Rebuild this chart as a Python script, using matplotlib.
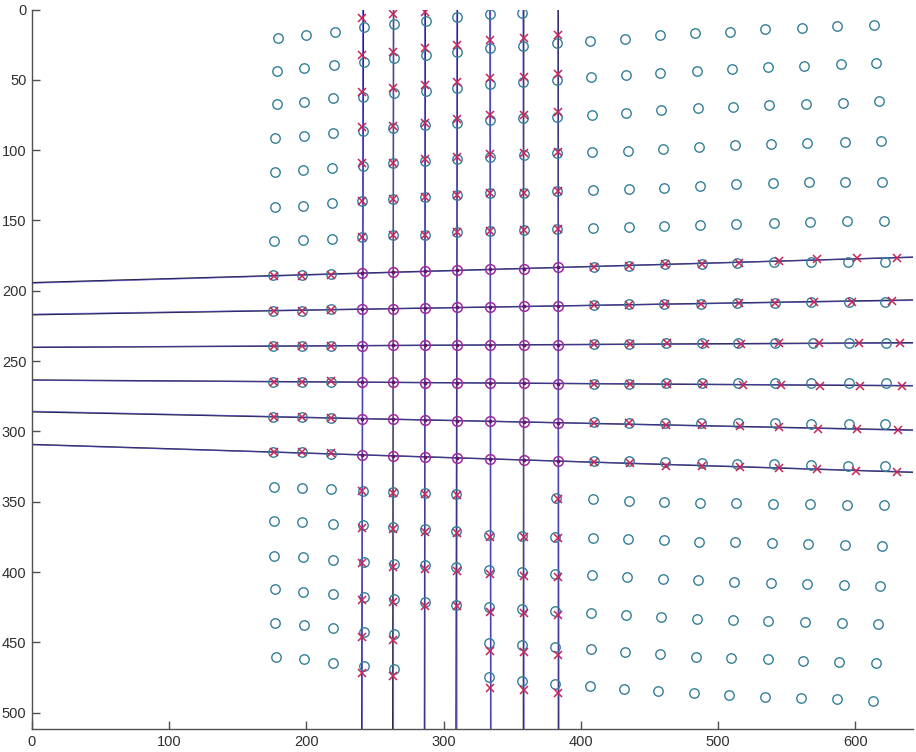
import matplotlib
matplotlib.use('Agg')
import matplotlib.pyplot as plt

# ---- detected corners (circles) ----
# left block: 3 columns, 19 rows each
left_cx = [[179.5, 178.8, 178.4, 177.3, 177.3, 177.3, 176.4, 175.9, 175.9, 175.9, 175.9, 175.9, 175.9,
            176.4, 176.4, 176.4, 177.1, 177.1, 177.9],
           [199.7, 198.3, 198.3, 198.3, 197.8, 197.3, 197.3, 196.6, 196.6, 196.6, 196.6, 196.6, 196.6,
            196.8, 196.8, 197.5, 197.5, 198.3, 198.3],
           [221.1, 220.3, 219.6, 219.6, 218.9, 218.9, 218.9, 217.9, 217.9, 217.9, 217.9, 217.9, 217.9,
            218.0, 219.0, 219.0, 219.0, 219.4, 219.4]]
left_cy = [[20.0, 43.7, 67.4, 91.1, 115.8, 140.2, 164.4, 189.0, 214.4, 239.2, 264.8, 289.7, 314.8,
            339.3, 363.7, 388.3, 412.0, 436.4, 460.1],
           [17.9, 41.8, 65.6, 89.7, 114.1, 139.5, 163.9, 189.0, 214.4, 239.2, 264.8, 289.7, 314.8,
            340.0, 364.6, 389.5, 414.4, 437.8, 462.0],
           [15.8, 39.5, 63.2, 87.6, 112.7, 137.8, 163.0, 188.1, 213.2, 239.2, 264.8, 290.7, 316.0,
            340.7, 365.8, 391.2, 415.6, 440.0, 464.4]]

# vertical band: 7 columns, circles off the line rows
band_cx = [[242.0, 242.0, 241.5, 241.5, 241.5, 240.5, 240.5, 241.3, 241.3, 241.8, 241.8, 241.8, 242.2],
           [264.0, 264.0, 264.0, 263.3, 263.3, 263.3, 263.3, 263.4, 263.4, 264.1, 264.1, 264.1, 264.1],
           [287.2, 287.2, 287.2, 286.4, 286.4, 286.4, 286.4, 286.4, 286.4, 286.4, 286.4],
           [310.0, 309.5, 309.5, 309.5, 309.5, 309.5, 309.5, 309.0, 309.0, 309.0, 309.0],
           [333.8, 333.8, 333.8, 333.8, 333.8, 333.8, 333.8, 333.1, 333.1, 333.1, 333.1, 333.1],
           [356.9, 357.6, 357.6, 357.6, 358.6, 358.6, 358.6, 357.0, 357.0, 357.0, 357.0, 357.0],
           [382.4, 382.4, 382.4, 382.4, 382.4, 382.4, 381.9, 381.2, 381.2, 381.2, 381.2, 381.2]]
band_cy = [[12.4, 37.1, 62.0, 86.4, 111.3, 136.2, 161.5, 342.1, 366.5, 393.0, 417.5, 442.4, 466.8],
           [10.3, 34.7, 59.6, 84.5, 109.4, 134.7, 160.6, 342.8, 367.7, 394.2, 419.3, 444.0, 469.1],
           [8.0, 32.4, 57.7, 82.1, 107.7, 133.1, 160.3, 344.0, 369.6, 395.0, 421.5],
           [5.6, 30.0, 56.0, 80.5, 106.5, 131.9, 158.4, 344.5, 370.6, 396.2, 423.4],
           [3.2, 27.6, 53.0, 78.6, 104.7, 130.2, 157.3, 373.7, 398.5, 424.6, 450.2, 474.8],
           [2.3, 26.0, 51.3, 77.4, 103.4, 130.2, 156.8, 374.1, 400.2, 426.3, 451.9, 477.2],
           [24.0, 50.1, 76.2, 101.8, 128.8, 156.0, 347.5, 374.8, 401.3, 427.4, 453.5, 479.6]]

# right block: 18 rows of 9 circles
right_cx = [[406.7, 432.3, 457.3, 483.0, 508.8, 534.5, 561.0, 586.8, 613.3],
            [407.2, 432.7, 457.8, 484.5, 510.2, 536.0, 562.7, 589.2, 614.9],
            [408.0, 433.0, 458.7, 485.2, 511.0, 537.4, 564.2, 590.7, 617.4],
            [408.0, 434.0, 459.5, 485.9, 512.4, 538.4, 564.9, 592.1, 618.8],
            [408.7, 434.7, 460.2, 486.7, 513.2, 539.9, 566.4, 592.8, 619.6],
            [408.7, 434.7, 460.9, 486.7, 513.2, 540.6, 567.1, 593.6, 621.0],
            [409.2, 435.4, 461.4, 488.1, 514.1, 540.4, 567.8, 594.5, 621.8],
            [409.2, 435.4, 460.9, 487.4, 514.1, 541.1, 567.8, 595.0, 621.8],
            [409.2, 435.4, 462.1, 488.6, 514.6, 541.1, 568.8, 595.5, 622.5],
            [409.2, 435.4, 462.1, 488.6, 514.6, 541.1, 567.8, 595.5, 622.5],
            [409.2, 435.4, 461.4, 487.4, 514.6, 541.1, 567.8, 595.0, 621.8],
            [409.2, 435.4, 461.4, 487.9, 514.1, 540.4, 567.6, 594.5, 621.8],
            [408.7, 434.7, 460.2, 486.9, 513.2, 539.9, 567.1, 593.8, 621.0],
            [408.7, 434.0, 460.2, 485.9, 512.4, 539.2, 565.4, 592.8, 619.6],
            [408.0, 433.5, 459.5, 485.2, 511.7, 538.4, 564.7, 591.4, 618.1],
            [407.2, 433.0, 458.7, 484.5, 511.0, 536.7, 563.4, 589.9, 616.4],
            [407.2, 432.3, 457.8, 483.8, 509.5, 536.0, 561.7, 588.2, 614.9],
            [406.3, 431.5, 456.5, 482.3, 508.1, 534.5, 560.3, 586.8, 612.5]]
right_cy = [[22.2, 21.0, 18.4, 16.9, 15.8, 14.1, 13.4, 11.7, 11.3],
            [48.2, 46.8, 45.1, 43.7, 42.3, 40.9, 40.2, 38.5, 37.8],
            [75.0, 73.3, 71.7, 70.3, 69.6, 68.1, 67.4, 66.7, 65.1],
            [101.6, 100.4, 98.9, 98.0, 96.3, 95.6, 94.9, 94.2, 93.5],
            [128.3, 127.6, 126.7, 125.3, 124.3, 123.6, 122.9, 122.4, 122.4],
            [155.6, 154.9, 154.2, 153.5, 152.7, 152.0, 151.3, 150.4, 150.1],
            [182.8, 182.1, 181.2, 181.2, 180.5, 179.8, 179.3, 179.3, 179.3],
            [210.1, 209.6, 209.4, 209.4, 208.9, 208.4, 208.2, 208.0, 208.2],
            [238.1, 238.1, 237.4, 237.4, 237.4, 236.9, 237.4, 237.4, 237.4],
            [266.3, 266.3, 265.8, 265.8, 265.8, 265.8, 265.8, 265.8, 265.8],
            [293.0, 293.8, 294.2, 293.8, 294.2, 294.2, 294.7, 294.7, 294.7],
            [320.8, 320.8, 322.0, 322.7, 323.1, 323.4, 323.9, 324.6, 324.6],
            [348.3, 349.2, 349.9, 350.6, 351.1, 351.8, 351.8, 352.5, 352.5],
            [375.5, 376.2, 377.2, 378.6, 378.6, 379.5, 380.0, 380.7, 381.4],
            [402.3, 403.7, 404.7, 405.9, 406.8, 407.5, 408.2, 408.9, 409.6],
            [428.8, 430.5, 431.9, 433.3, 434.1, 434.8, 435.7, 436.4, 437.1],
            [454.7, 457.0, 458.5, 460.1, 460.8, 462.0, 463.0, 463.7, 464.4],
            [480.7, 483.1, 484.5, 486.0, 487.4, 488.6, 489.8, 490.5, 491.6]]

# ---- projected points (red x) ----
band_px = [240.3, 262.9, 286.4, 310.0, 334.0, 358.3, 383.6]
band_py = [[6.3, 32.4, 58.4, 83.3, 109.4, 136.0, 161.5, 342.1, 368.4, 393.8, 419.8, 445.9, 471.9],
           [3.2, 30.0, 56.0, 82.6, 108.9, 134.7, 160.6, 343.8, 369.6, 396.1, 421.5, 448.3, 473.9],
           [1.5, 27.6, 53.7, 80.5, 106.5, 133.1, 160.3, 344.5, 371.3, 397.8, 424.1],
           [25.2, 51.3, 78.1, 104.7, 131.9, 158.4, 345.2, 372.4, 399.0, 424.1],
           [21.7, 48.9, 75.0, 102.7, 130.2, 157.3, 374.8, 401.4, 428.6, 455.9, 482.6],
           [20.5, 48.2, 75.0, 102.2, 130.2, 156.8, 374.8, 402.8, 429.3, 456.6, 483.8],
           [18.1, 45.9, 72.7, 101.1, 128.8, 156.0, 348.3, 376.0, 403.3, 430.5, 458.9, 486.2]]

left_px = [176.2, 196.9, 218.2]
left_py = [[189.4, 214.6, 239.4, 264.6, 289.5, 314.6],
           [189.2, 214.4, 239.3, 264.6, 289.7, 314.8],
           [188.4, 213.6, 239.1, 264.4, 290.3, 315.6]]

right_px = [[409.2, 435.4, 461.4, 488.1, 515.3, 544.0, 571.9, 601.1, 630.3],
            [409.2, 434.7, 461.4, 487.4, 514.9, 541.6, 569.5, 597.5, 626.6],
            [409.2, 435.9, 462.6, 490.1, 516.8, 544.7, 573.2, 603.0, 632.7],
            [409.2, 435.9, 462.6, 489.3, 518.0, 546.0, 574.4, 603.5, 633.9],
            [409.7, 435.4, 461.9, 488.4, 516.1, 544.5, 572.7, 601.1, 631.0],
            [409.2, 435.9, 462.1, 488.1, 516.1, 544.0, 571.9, 600.6, 630.3]]
right_py = [[182.8, 182.1, 181.2, 181.2, 180.5, 178.6, 177.6, 176.9, 176.4],
            [210.1, 210.1, 209.6, 209.4, 208.9, 208.4, 208.0, 207.7, 207.0],
            [238.1, 238.1, 237.4, 237.8, 238.1, 237.4, 237.4, 237.4, 237.4],
            [266.3, 266.3, 266.3, 266.3, 267.0, 267.0, 267.7, 267.7, 267.7],
            [294.2, 294.2, 295.4, 295.4, 296.1, 297.1, 298.3, 298.5, 299.0],
            [321.5, 322.2, 324.3, 324.6, 325.5, 326.2, 326.9, 327.9, 328.6]]

# ---- line intersections (magenta circles) ----
inter_x = [240.8, 263.2, 286.3, 309.8, 334.0, 358.2, 383.6]
inter_y = [[187.1, 186.4, 185.9, 185.2, 184.5, 184.5, 183.3],
           [213.2, 213.2, 212.4, 211.7, 211.7, 210.8, 210.8],
           [239.0, 238.8, 238.7, 238.5, 238.5, 238.3, 238.2],
           [264.9, 265.1, 265.2, 265.4, 265.5, 265.7, 265.9],
           [290.9, 291.3, 291.8, 292.3, 292.8, 293.3, 293.8],
           [316.6, 317.3, 318.0, 318.8, 319.5, 320.3, 321.1]]

# ---- fitted lines: endpoints ----
vline_top = [241.5, 263.5, 286.6, 310.0, 333.8, 358.3, 383.5]      # x at y=0
vline_bot = [240.3, 262.9, 286.0, 309.0, 334.3, 358.1, 383.6]      # x at y=511.5
vline2_top = [241.0, 263.3, 286.2, 309.6, 334.0, 357.8, 383.2]
vline2_bot = [240.6, 263.4, 286.3, 309.7, 334.0, 358.6, 384.0]
hline_left = [194.2, 217.0, 240.2, 263.4, 286.0, 309.2]            # y at x=0
hline_right = [176.1, 206.5, 236.9, 267.5, 299.0, 329.0]           # y at x=642
hline2_left = [194.6, 216.6, 240.0, 263.6, 285.6, 309.4]
hline2_right = [176.0, 206.8, 237.2, 267.3, 299.3, 328.8]

XMAX, YMAX = 642, 511.5

plt.rcParams['font.family'] = ['Liberation Sans', 'DejaVu Sans']
fig = plt.figure(figsize=(9.16, 7.52), dpi=100)
ax = fig.add_axes([32 / 916, 23 / 752, 881 / 916, 719.5 / 752])

# lines
for t, b in zip(vline_top, vline_bot):
    ax.plot([t, b], [0, YMAX], color='#15151f', lw=1.0)
for l, r in zip(hline_left, hline_right):
    ax.plot([0, XMAX], [l, r], color='#15151f', lw=1.0)
for t, b in zip(vline2_top, vline2_bot):
    ax.plot([t, b], [0, YMAX], color='#5a50e0', lw=0.9, alpha=0.8)
for l, r in zip(hline2_left, hline2_right):
    ax.plot([0, XMAX], [l, r], color='#5a50e0', lw=0.9, alpha=0.6)

circ = dict(ls='none', marker='o', ms=6.8, mfc='none', mec='#347f98', mew=1.0)
cross = dict(ls='none', marker='x', ms=6.0, color='#c8245a', mew=1.1)

for xs, ys in zip(left_cx, left_cy):
    ax.plot(xs, ys, **circ)
for xs, ys in zip(band_cx, band_cy):
    ax.plot(xs, ys, **circ)
for xs, ys in zip(right_cx, right_cy):
    ax.plot(xs, ys, **circ)

for x, ys in zip(band_px, band_py):
    ax.plot([x] * len(ys), ys, **cross)
for x, ys in zip(left_px, left_py):
    ax.plot([x] * len(ys), ys, **cross)
for xs, ys in zip(right_px, right_py):
    ax.plot(xs, ys, **cross)

for ys in inter_y:
    ax.plot(inter_x, ys, ls='none', marker='o', ms=7.0, mfc='none', mec='#a0289e', mew=1.1)
    ax.plot(inter_x, ys, ls='none', marker='.', ms=3.5, color='#70106e')

ax.set_xlim(0, XMAX)
ax.set_ylim(YMAX, 0)
ax.set_xticks([0, 100, 200, 300, 400, 500, 600])
ax.set_yticks([0, 50, 100, 150, 200, 250, 300, 350, 400, 450, 500])
for s in ['top', 'right']:
    ax.spines[s].set_visible(False)
for s in ['left', 'bottom']:
    ax.spines[s].set_color('#505050')
    ax.spines[s].set_linewidth(1.0)
ax.tick_params(direction='in', length=6, width=1.0, color='#505050',
               labelsize=10.5, labelcolor='#303030', pad=4)

fig.savefig('out.png', dpi=100)
